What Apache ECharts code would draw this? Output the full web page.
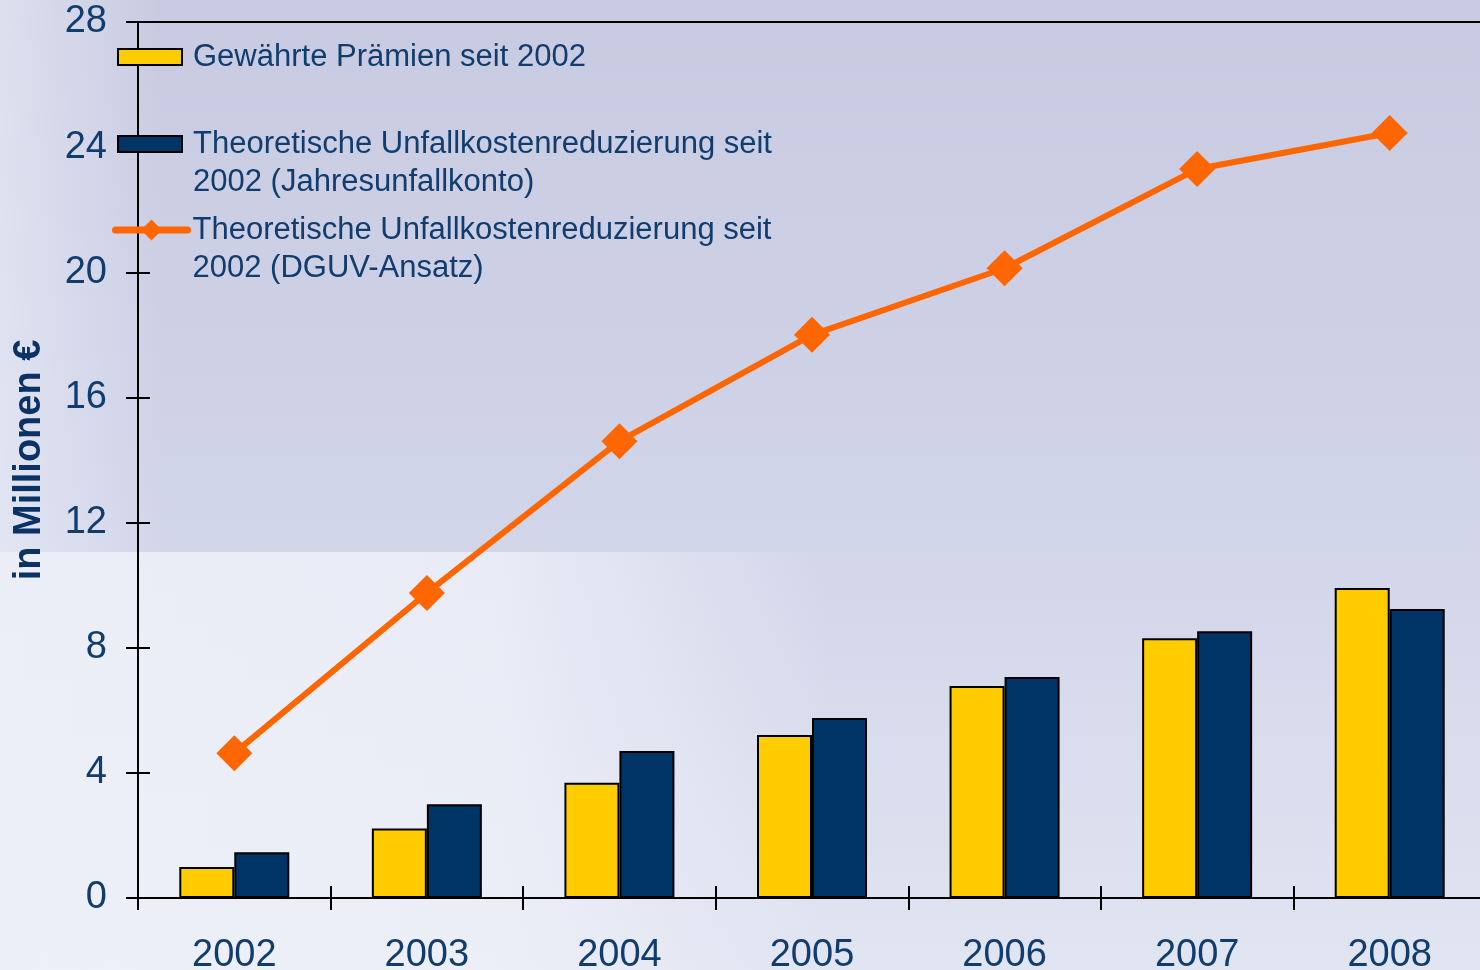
<!DOCTYPE html>
<html>
<head>
<meta charset="utf-8">
<script src="https://cdn.jsdelivr.net/npm/echarts@6/dist/echarts.min.js"></script>
<style>
  html, body { margin: 0; padding: 0; }
  #chart { width: 1480px; height: 970px; }
</style>
</head>
<body>
<div id="chart"></div>
<script>
  // Daten (in Millionen €)
  var years = ['2002', '2003', '2004', '2005', '2006', '2007', '2008'];
  var praemien = [0.99, 2.22, 3.68, 5.21, 6.78, 8.30, 9.91];
  var jahresunfallkonto = [1.46, 3.0, 4.70, 5.75, 7.06, 8.53, 9.24];
  var dguv = [4.63, 9.75, 14.6, 18.0, 20.13, 23.30, 24.45];
  var yTicks = [0, 4, 8, 12, 16, 20, 24, 28];

  var textColor = '#113d6e';
  var font = 'Liberation Sans';

  var chart = echarts.init(document.getElementById('chart'));

  var legendText = {
    color: textColor, fontFamily: font, fontSize: 31, lineHeight: 38,
    padding: [0, 0, 0, 6]
  };
  // leere erste Zeile, damit die erste Textzeile auf Höhe des Symbols steht
  var twoLine = function (name) { return '\n' + name; };

  chart.setOption({
    backgroundColor: {
      type: 'linear', x: 0, y: 0, x2: 0, y2: 1,
      colorStops: [
        { offset: 0, color: '#c8cae1' },
        { offset: 0.5, color: '#d0d4e8' },
        { offset: 1, color: '#e1e4f1' }
      ]
    },
    graphic: [
      // heller Bereich unten links
      {
        type: 'rect', z: -10, silent: true,
        shape: { x: 0, y: 552, width: 830, height: 418 },
        style: {
          fill: {
            type: 'linear', x: 0, y: 0, x2: 1, y2: 0,
            colorStops: [
              { offset: 0, color: 'rgba(240,242,250,0.85)' },
              { offset: 0.6, color: 'rgba(240,242,250,0.75)' },
              { offset: 1, color: 'rgba(240,242,250,0)' }
            ]
          }
        }
      },
      {
        type: 'rect', z: -10, silent: true,
        shape: { x: 0, y: 0, width: 160, height: 970 },
        style: {
          fill: {
            type: 'linear', x: 0, y: 0, x2: 1, y2: 0,
            colorStops: [
              { offset: 0, color: 'rgba(236,238,248,0.6)' },
              { offset: 1, color: 'rgba(236,238,248,0)' }
            ]
          }
        }
      }
    ],
    legend: [
      {
        left: 117, top: 38, padding: 0,
        itemWidth: 64, itemHeight: 16, icon: 'rect',
        data: ['Gewährte Prämien seit 2002'],
        textStyle: legendText
      },
      {
        left: 117, top: 87, padding: 0,
        itemWidth: 64, itemHeight: 16, icon: 'rect',
        formatter: twoLine,
        data: ['Theoretische Unfallkostenreduzierung seit\n2002 (Jahresunfallkonto)'],
        textStyle: legendText
      },
      {
        left: 112, top: 173, padding: 0,
        itemWidth: 72, itemHeight: 26,
        formatter: twoLine,
        lineStyle: { width: 7, cap: 'round' },
        data: ['Theoretische Unfallkostenreduzierung seit\n2002 (DGUV-Ansatz)'],
        textStyle: { color: textColor, fontFamily: font, fontSize: 31, lineHeight: 38 }
      }
    ],
    grid: {
      left: 138, top: 22, width: 1348, height: 876,
      outerBoundsMode: 'none',
      show: true, borderColor: '#000', borderWidth: 2, backgroundColor: 'transparent'
    },
    xAxis: [
      {
        type: 'category', data: years,
        axisLine: { lineStyle: { color: '#000', width: 2 } },
        axisTick: { show: true, length: 12, lineStyle: { color: '#000', width: 2 } },
        axisLabel: { color: textColor, fontFamily: font, fontSize: 38, margin: 39 }
      },
      {
        type: 'category', data: years, position: 'bottom',
        axisLine: { show: false },
        axisTick: { show: true, inside: true, length: 12, lineStyle: { color: '#000', width: 2 } },
        axisLabel: { show: false }
      }
    ],
    yAxis: [
      {
        type: 'value', min: 0, max: 28, interval: 4,
        name: 'in Millionen €', nameLocation: 'middle', nameGap: 89,
        nameTextStyle: { color: '#0b3264', fontFamily: font, fontSize: 38, fontWeight: 'bold' },
        splitLine: { show: false },
        axisLine: { show: true, lineStyle: { color: '#000', width: 2 } },
        axisTick: { show: true, length: 12, lineStyle: { color: '#000', width: 2 } },
        axisLabel: {
          color: textColor, fontFamily: font, fontSize: 38, margin: 31,
          formatter: function (v) { return yTicks.indexOf(v) >= 0 ? String(v) : ''; }
        }
      },
      {
        type: 'value', min: 0, max: 28, interval: 4, position: 'left',
        splitLine: { show: false },
        axisLine: { show: false },
        axisTick: { show: true, inside: true, length: 12, lineStyle: { color: '#000', width: 2 } },
        axisLabel: { show: false }
      }
    ],
    series: [
      {
        name: 'Gewährte Prämien seit 2002',
        type: 'bar', data: praemien,
        barWidth: 55, barGap: '0%',
        itemStyle: { color: '#ffcc00', borderColor: '#000', borderWidth: 2 }
      },
      {
        name: 'Theoretische Unfallkostenreduzierung seit\n2002 (Jahresunfallkonto)',
        type: 'bar', data: jahresunfallkonto,
        barWidth: 55, barGap: '0%',
        itemStyle: { color: '#003366', borderColor: '#000', borderWidth: 2 }
      },
      {
        name: 'Theoretische Unfallkostenreduzierung seit\n2002 (DGUV-Ansatz)',
        type: 'line', data: dguv,
        symbol: 'diamond', symbolSize: 36,
        lineStyle: { color: '#ff6600', width: 6 },
        itemStyle: { color: '#ff6600' },
        z: 5
      }
    ]
  });
</script>
</body>
</html>
